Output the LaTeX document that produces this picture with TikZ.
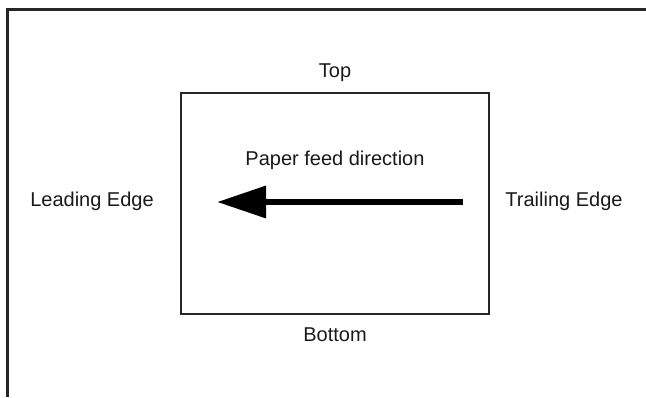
\documentclass[tikz,border=0pt]{standalone}
\usepackage{fontspec}
\setmainfont{Liberation Sans}
\usetikzlibrary{arrows.meta}

\begin{document}
\begin{tikzpicture}[x=1pt, y=-1pt]
        \tikzstyle{lbl} = [font=\fontsize{20}{24}\selectfont, text=black!90, inner sep=0pt]
        \tikzstyle{frame} = [draw, black!85, line width=3pt]
        \tikzstyle{feed} = [draw, black, line width=6.5pt, -{Triangle[length=49pt, width=31pt]}]
        
        \useasboundingbox (0, 0) rectangle (646, 397);
        \draw[frame] (646, 9) -- (7, 9) -- (7, 397);
        
        \node[draw, black!85, line width=1.5pt, minimum width=308pt, minimum height=221pt, inner sep=0pt] (sheet) at (335, 203.5) {};
        
        \node[lbl] (top) at (335, 73) {Top};
        \node[lbl] (feedlabel) at (335, 160) {Paper feed direction};
        \node[lbl] (leading) at (92, 201) {Leading Edge};
        \node[lbl] (trailing) at (564, 201) {Trailing Edge};
        \node[lbl] (bottom) at (335, 335) {Bottom};
        \coordinate (tail) at (463, 202);
        \coordinate (head) at (217, 202);
        
        \path[feed] (tail) to (head);
    \end{tikzpicture}
\end{document}
